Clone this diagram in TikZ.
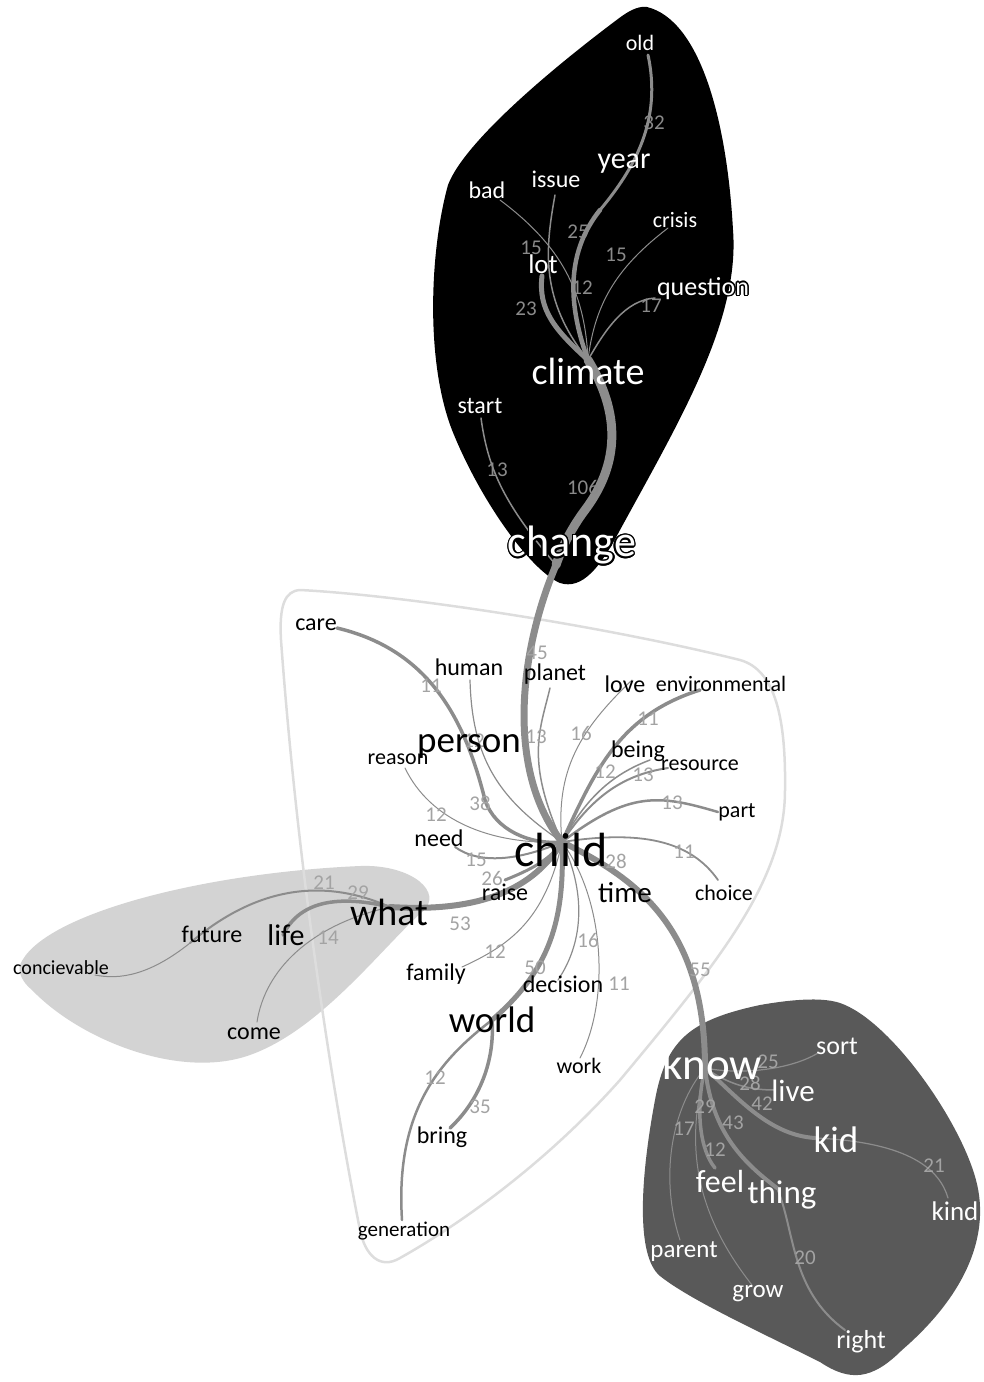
\documentclass[tikz,border=0pt]{standalone}
\usepackage{fontspec}
\setmainfont{Carlito}
\usepackage{contour}
\contourlength{1.3pt}
\newcommand\fsz[1]{\fontsize{#1}{#1}\selectfont}
\definecolor{edgegray}{HTML}{8C8C8C}
\definecolor{numgray}{HTML}{A3A3A3}
\definecolor{numdark}{HTML}{8A8A8A}
\definecolor{blobgray}{HTML}{D3D3D3}
\definecolor{blobdark}{HTML}{595959}
\definecolor{outl}{HTML}{DDDDDD}
\tikzset{
  wt/.style={text=white, inner sep=0pt},
  bt/.style={text=black, inner sep=0pt},
  num/.style={text=numgray, inner sep=0pt, font=\fsz{21}},
  numd/.style={text=numdark, inner sep=0pt, font=\fsz{21}},
  edge/.style={draw=edgegray, line cap=round},
}
\begin{document}
\begin{tikzpicture}[x=1pt,y=-1pt]
\useasboundingbox (0,0) rectangle (984,1382);
% ---------- blobs
\fill[black] (647,7) .. controls (700,20) and (727,120) .. (733,230)
  .. controls (740,320) and (680,420) .. (620,530)
  .. controls (600,568) and (582,590) .. (560,583)
  .. controls (530,570) and (480,500) .. (452,430)
  .. controls (425,360) and (430,250) .. (448,185)
  .. controls (465,140) and (560,62) .. (622,16)
  .. controls (632,9) and (640,6) .. (647,7) -- cycle;
\fill[blobgray] (20,965) .. controls (40,915) and (200,873) .. (360,866)
  .. controls (412,864) and (445,893) .. (422,912)
  .. controls (380,950) and (320,1030) .. (250,1055)
  .. controls (180,1080) and (80,1040) .. (32,990)
  .. controls (22,982) and (18,972) .. (20,965) -- cycle;
\fill[blobdark] (840,1003) .. controls (890,1020) and (960,1120) .. (976,1180)
  .. controls (992,1240) and (960,1300) .. (902,1350)
  .. controls (872,1380) and (850,1382) .. (820,1362)
  .. controls (760,1332) and (690,1300) .. (660,1276)
  .. controls (636,1256) and (640,1180) .. (655,1100)
  .. controls (666,1040) and (690,1020) .. (760,1005)
  .. controls (800,998) and (825,998) .. (840,1003) -- cycle;
\draw[outl, line width=2.5pt, line join=round]
  (300,590) .. controls (400,595) and (600,625) .. (740,660)
  .. controls (776,670) and (786,720) .. (785,790)
  .. controls (785,880) and (720,960) .. (620,1080)
  .. controls (540,1170) and (450,1230) .. (400,1258)
  .. controls (380,1270) and (365,1255) .. (360,1230)
  .. controls (340,1130) and (300,900) .. (281,640)
  .. controls (279,605) and (285,591) .. (300,590) -- cycle;
% ---------- edge end points
\coordinate (p-climate) at (588,360);
\coordinate (p-year) at (600,210);
\coordinate (p-old) at (648,55);
\coordinate (p-lot) at (542,276);
\coordinate (p-issue) at (555,195);
\coordinate (p-bad) at (500,200);
\coordinate (p-crisis) at (668,228);
\coordinate (p-question) at (655,298);
\coordinate (p-change) at (556,565);
\coordinate (p-start) at (481,418);
\coordinate (p-child) at (562,842);
\coordinate (p-care) at (337,628);
\coordinate (p-human) at (470,680);
\coordinate (p-planet) at (550,688);
\coordinate (p-love) at (632,680);
\coordinate (p-env) at (700,690);
\coordinate (p-being) at (650,760);
\coordinate (p-resource) at (668,768);
\coordinate (p-part) at (718,812);
\coordinate (p-choice) at (718,880);
\coordinate (p-reason) at (405,768);
\coordinate (p-need) at (455,847);
\coordinate (p-raise) at (505,880);
\coordinate (p-what) at (390,907);
\coordinate (p-family) at (462,967);
\coordinate (p-world) at (492,1020);
\coordinate (p-bring) at (450,1128);
\coordinate (p-generation) at (402,1220);
\coordinate (p-decision) at (558,980);
\coordinate (p-work) at (580,1058);
\coordinate (p-know) at (705,1068);
\coordinate (p-life) at (283,935);
\coordinate (p-future) at (190,943);
\coordinate (p-concievable) at (95,975);
\coordinate (p-come) at (257,1022);
\coordinate (p-sort) at (818,1053);
\coordinate (p-live) at (775,1090);
\coordinate (p-kid) at (815,1138);
\coordinate (p-kind) at (948,1198);
\coordinate (p-feel) at (715,1168);
\coordinate (p-thing) at (777,1188);
\coordinate (p-right) at (845,1330);
\coordinate (p-parent) at (680,1240);
\coordinate (p-grow) at (752,1285);
% ---------- edges: climate group
\draw[edge, line width=4.5pt] (p-climate) .. controls (566,300) and (568,250) .. (p-year);
\draw[edge, line width=3pt] (p-year) .. controls (635,168) and (662,120) .. (p-old);
\draw[edge, line width=5pt] (p-climate) .. controls (555,330) and (538,310) .. (p-lot);
\draw[edge, line width=1.5pt] (p-climate) .. controls (540,300) and (545,250) .. (p-issue);
\draw[edge, line width=1pt] (p-climate) .. controls (585,290) and (560,245) .. (p-bad);
\draw[edge, line width=1pt] (p-climate) .. controls (595,300) and (620,265) .. (p-crisis);
\draw[edge, line width=1.5pt] (p-climate) .. controls (605,330) and (625,300) .. (p-question);
\draw[edge, line width=9pt] (p-climate) .. controls (625,420) and (615,470) .. (585,510)
  .. controls (570,530) and (561,550) .. (p-change);
\draw[edge, line width=1.5pt] (p-start) .. controls (488,470) and (505,505) .. (p-change);
\draw[edge, line width=7pt] (p-change) .. controls (520,650) and (505,770) .. (p-child);
% ---------- edges: child group
\draw[edge, line width=3.5pt] (p-child) .. controls (530,845) and (495,830) .. (485,800)
  .. controls (465,720) and (430,650) .. (p-care);
\draw[edge, line width=1.2pt] (p-child) .. controls (500,800) and (472,760) .. (p-human);
\draw[edge, line width=1.5pt] (p-child) .. controls (525,760) and (540,730) .. (p-planet);
\draw[edge, line width=1pt] (p-child) .. controls (555,770) and (580,730) .. (p-love);
\draw[edge, line width=3.5pt] (p-child) .. controls (595,770) and (620,715) .. (p-env);
\draw[edge, line width=1.5pt] (p-child) .. controls (585,800) and (610,775) .. (p-being);
\draw[edge, line width=2pt] (p-child) .. controls (590,800) and (620,775) .. (p-resource);
\draw[edge, line width=2.5pt] (p-child) .. controls (630,790) and (660,795) .. (p-part);
\draw[edge, line width=1.8pt] (p-child) .. controls (640,830) and (690,840) .. (p-choice);
\draw[edge, line width=1pt] (p-child) .. controls (490,845) and (430,820) .. (p-reason);
\draw[edge, line width=2pt] (p-child) .. controls (520,860) and (480,865) .. (p-need);
\draw[edge, line width=3pt] (p-child) .. controls (550,860) and (530,870) .. (p-raise);
\draw[edge, line width=6pt] (p-child) .. controls (530,895) and (470,912) .. (p-what);
\draw[edge, line width=1pt] (p-child) .. controls (545,920) and (510,945) .. (p-family);
\draw[edge, line width=5pt] (p-child) .. controls (565,920) and (550,970) .. (p-world);
\draw[edge, line width=3.5pt] (p-world) .. controls (495,1060) and (480,1100) .. (p-bring);
\draw[edge, line width=2.5pt] (p-world) .. controls (440,1060) and (395,1110) .. (p-generation);
\draw[edge, line width=1.2pt] (p-child) .. controls (585,890) and (585,940) .. (p-decision);
\draw[edge, line width=1pt] (p-child) .. controls (605,900) and (610,1000) .. (p-work);
\draw[edge, line width=6pt] (p-child) .. controls (640,880) and (705,930) .. (p-know);
% ---------- edges: what group
\draw[edge, line width=3.5pt] (p-what) .. controls (340,895) and (300,900) .. (p-life);
\draw[edge, line width=2pt] (p-what) .. controls (340,885) and (270,875) .. (p-future);
\draw[edge, line width=1pt] (p-future) .. controls (150,975) and (120,980) .. (p-concievable);
\draw[edge, line width=1pt] (p-what) .. controls (310,925) and (265,970) .. (p-come);
% ---------- edges: know group
\draw[edge, line width=1.2pt] (p-know) .. controls (740,1075) and (790,1070) .. (p-sort);
\draw[edge, line width=1.5pt] (p-know) .. controls (730,1085) and (750,1090) .. (p-live);
\draw[edge, line width=4pt] (p-know) .. controls (740,1100) and (770,1135) .. (p-kid);
\draw[edge, line width=1.2pt] (p-kid) .. controls (910,1142) and (940,1170) .. (p-kind);
\draw[edge, line width=3.5pt] (p-know) .. controls (695,1110) and (700,1150) .. (p-feel);
\draw[edge, line width=4pt] (p-know) .. controls (712,1130) and (740,1160) .. (p-thing);
\draw[edge, line width=2pt] (p-thing) .. controls (795,1230) and (790,1290) .. (p-right);
\draw[edge, line width=1pt] (p-know) .. controls (670,1110) and (660,1180) .. (p-parent);
\draw[edge, line width=1pt] (p-know) .. controls (690,1130) and (685,1200) .. (p-grow);
% ---------- number labels
\node[numd] (n32) at (654,123) {32};
\node[numd] (n25a) at (578,232) {25};
\node[numd] (n15a) at (531,248) {15};
\node[numd] (n12a) at (582,288) {12};
\node[numd] (n15b) at (616,255) {15};
\node[numd] (n17a) at (651,306) {17};
\node[numd] (n23) at (526,309) {23};
\node[numd] (n13a) at (497,470) {13};
\node[numd] (n106) at (583,487) {106};
\node[num] (n45) at (537,653) {45};
\node[num] (n11a) at (431,686) {11};
\node[num] (n12b) at (474,741) {12};
\node[num] (n13b) at (536,737) {13};
\node[num] (n16a) at (581,733) {16};
\node[num] (n11b) at (648,719) {11};
\node[num] (n12c) at (605,772) {12};
\node[num] (n13c) at (643,775) {13};
\node[num] (n13d) at (672,803) {13};
\node[num] (n38) at (480,803) {38};
\node[num] (n12d) at (436,815) {12};
\node[num] (n15c) at (476,860) {15};
\node[num] (n26) at (492,878) {26};
\node[num] (n28a) at (616,861) {28};
\node[num] (n11c) at (684,852) {11};
\node[num] (n53) at (460,924) {53};
\node[num] (n12e) at (495,952) {12};
\node[num] (n50) at (535,968) {50};
\node[num] (n16b) at (588,940) {16};
\node[num] (n11d) at (619,984) {11};
\node[num] (n55) at (700,970) {55};
\node[num] (n12f) at (435,1078) {12};
\node[num] (n35) at (480,1107) {35};
\node[num] (n21a) at (324,883) {21};
\node[num] (n29a) at (358,893) {29};
\node[num] (n14) at (328,938) {14};
\node[num] (n25b) at (768,1062) {25};
\node[num] (n28b) at (750,1083) {28};
\node[num] (n42) at (762,1104) {42};
\node[num] (n29b) at (705,1107) {29};
\node[num] (n43) at (733,1123) {43};
\node[num] (n17b) at (684,1129) {17};
\node[num] (n12g) at (715,1150) {12};
\node[num] (n21b) at (934,1166) {21};
\node[num] (n20) at (805,1258) {20};
% ---------- words: climate group
\node[wt, font=\fsz{22}] (old) at (640,43) {old};
\node[wt, font=\fsz{30}] (year) at (624,164) {year};
\node[wt, font=\fsz{24}] (bad) at (487,190) {bad};
\node[wt, font=\fsz{24}] (issue) at (556,179) {issue};
\node[wt, font=\fsz{22}] (crisis) at (675,220) {crisis};
\node[wt, font=\fsz{27}] (lot) at (543,264) {lot};
\node[wt, font=\fsz{26}] (question) at (703,289) {\contour{black}{question}};
\node[wt, font=\fsz{38}] (climate) at (588,371) {climate};
\node[wt, font=\fsz{24}] (start) at (480,406) {start};
\node[wt, font=\fsz{44}] (change) at (572,546) {\contour{black}{change}};
% ---------- words: child group
\node[bt, font=\fsz{48}] (child) at (561,850) {child};
\node[bt, font=\fsz{24}] (care) at (316,625) {care};
\node[bt, font=\fsz{24}] (human) at (469,667) {human};
\node[bt, font=\fsz{24}] (planet) at (555,674) {planet};
\node[bt, font=\fsz{24}] (love) at (625,684) {love};
\node[bt, font=\fsz{22}] (environmental) at (721,684) {environmental};
\node[bt, font=\fsz{37}] (person) at (469,746) {person};
\node[bt, font=\fsz{22}] (reason) at (398,759) {reason};
\node[bt, font=\fsz{24}] (being) at (638,751) {being};
\node[bt, font=\fsz{22}] (resource) at (700,765) {resource};
\node[bt, font=\fsz{22}] (part) at (737,812) {part};
\node[bt, font=\fsz{24}] (need) at (439,838) {need};
\node[bt, font=\fsz{24}] (raise) at (505,892) {raise};
\node[bt, font=\fsz{29}] (time) at (625,893) {time};
\node[bt, font=\fsz{22}] (choice) at (724,893) {choice};
\node[bt, font=\fsz{24}] (family) at (436,974) {family};
\node[bt, font=\fsz{24}] (decision) at (563,984) {decision};
\node[bt, font=\fsz{37}] (world) at (492,1020) {world};
\node[bt, font=\fsz{22}] (work) at (579,1066) {work};
\node[bt, font=\fsz{24}] (bring) at (442,1137) {bring};
\node[bt, font=\fsz{21}] (generation) at (404,1231) {generation};
% ---------- words: what group
\node[bt, font=\fsz{38}] (what) at (389,912) {what};
\node[bt, font=\fsz{30}] (life) at (286,935) {life};
\node[bt, font=\fsz{24}] (future) at (212,934) {future};
\node[bt, font=\fsz{20}] (concievable) at (61,968) {concievable};
\node[bt, font=\fsz{24}] (come) at (254,1034) {come};
% ---------- words: know group
\node[wt, font=\fsz{45}] (know) at (712,1064) {know};
\node[wt, font=\fsz{26}] (sort) at (837,1046) {sort};
\node[wt, font=\fsz{31}] (live) at (793,1091) {live};
\node[wt, font=\fsz{37}] (kid) at (836,1140) {kid};
\node[wt, font=\fsz{32}] (feel) at (720,1181) {feel};
\node[wt, font=\fsz{33}] (thing) at (782,1195) {thing};
\node[wt, font=\fsz{27}] (kind) at (955,1211) {kind};
\node[wt, font=\fsz{25}] (parent) at (684,1252) {parent};
\node[wt, font=\fsz{25}] (grow) at (758,1294) {grow};
\node[wt, font=\fsz{26}] (right) at (861,1342) {right};
\end{tikzpicture}
\end{document}
